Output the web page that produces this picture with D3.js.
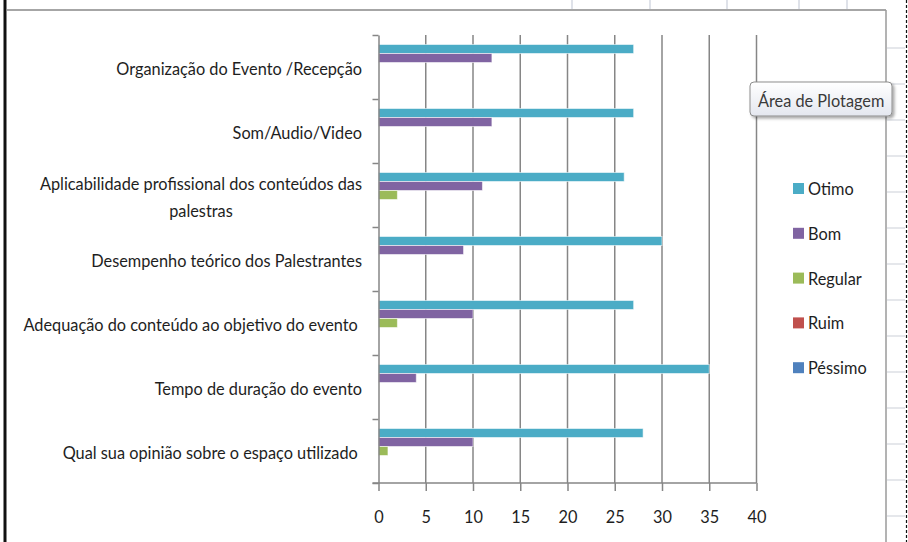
<!DOCTYPE html>
<html>
<head>
<meta charset="utf-8">
<script src="https://cdn.jsdelivr.net/npm/d3@7"></script>
<style>
  html, body { margin: 0; padding: 0; background: #ffffff; }
  svg { display: block; }
  text { font-family: Lato, "Open Sans", "DejaVu Sans Condensed", sans-serif; white-space: pre; }
</style>
</head>
<body>
<svg id="chart" width="908" height="542"></svg>
<script>
// ---------- data ----------
const categories = [
  "Organização do Evento /Recepção",
  "Som/Audio/Video",
  "Aplicabilidade profissional dos conteúdos das\npalestras",
  "Desempenho teórico dos Palestrantes",
  "Adequação do conteúdo ao objetivo do evento ",
  "Tempo de duração do evento",
  "Qual sua opinião sobre o espaço utilizado "
];
const seriesNames = ["Otimo", "Bom", "Regular", "Ruim", "Péssimo"];
const otimo   = [27, 27, 26, 30, 27, 35, 28];
const bom     = [12, 12, 11,  9, 10,  4, 10];
const regular = [ 0,  0,  2,  0,  2,  0,  1];
const ruim    = [ 0,  0,  0,  0,  0,  0,  0];
const pessimo = [ 0,  0,  0,  0,  0,  0,  0];
const xTickValues = [0, 5, 10, 15, 20, 25, 30, 35, 40];
const seriesColors = ["#4BACC6", "#8064A2", "#9BBB59", "#C0504D", "#4F81BD"];
const tooltipText = "Área de Plotagem";

const seriesValues = [otimo, bom, regular, ruim, pessimo];

// ---------- layout ----------
const svg = d3.select("#chart");
const plot = { left: 378.5, right: 756.5, top: 35, bottom: 483 };
const fontSize = 18;
const textColor = "#1e1e1e";
const axisColor = "#868686";

// horizontal font-fit factor: the reference font is narrow (Calibri-like)
const probe = svg.append("text").attr("font-size", fontSize).text(categories[0]);
const sx = 246 / probe.node().getComputedTextLength();
probe.remove();

function addText(parent, tx, ty, str, anchor, fill) {
  return parent.append("text")
    .attr("transform", `translate(${tx},${ty}) scale(${sx},1)`)
    .attr("font-size", fontSize).attr("fill", fill || textColor)
    .attr("text-anchor", anchor || "start").text(str);
}

// spreadsheet background pieces (decoration)
const sheetCols = [572, 650, 727, 799, 847];
svg.append("g").selectAll("line").data(sheetCols).join("line")
  .attr("x1", d => d).attr("x2", d => d).attr("y1", 0).attr("y2", 10)
  .attr("stroke", "#d4d9e2").attr("stroke-width", 1.5);
svg.append("g").selectAll("line").data(d3.range(1, 15)).join("line")
  .attr("x1", 887).attr("x2", 905)
  .attr("y1", d => 12 + d * 36).attr("y2", d => 12 + d * 36)
  .attr("stroke", "#dcdfe5").attr("stroke-width", 1.5);

// chart area borders
svg.append("line").attr("x1", 7).attr("x2", 886).attr("y1", 10).attr("y2", 10)
  .attr("stroke", "#a6a6a6").attr("stroke-width", 2);
svg.append("line").attr("x1", 886).attr("x2", 886).attr("y1", 10).attr("y2", 542)
  .attr("stroke", "#9a9a9a").attr("stroke-width", 1.5);
svg.append("line").attr("x1", 5).attr("x2", 5).attr("y1", 0).attr("y2", 542)
  .attr("stroke", "#111").attr("stroke-width", 3);
svg.append("line").attr("x1", 906.5).attr("x2", 906.5).attr("y1", 0).attr("y2", 542)
  .attr("stroke", "#111").attr("stroke-width", 1.2).attr("stroke-dasharray", "3,2");

// ---------- scales ----------
const x = d3.scaleLinear().domain([0, 40]).range([plot.left, plot.right]);
const y0 = d3.scaleBand().domain(d3.range(categories.length))
  .range([plot.top, plot.bottom]).paddingInner(0.297).paddingOuter(0.1485);
const y1 = d3.scaleBand().domain(seriesNames).range([0, y0.bandwidth()]);
const yEdge = d3.scaleLinear().domain([0, categories.length]).range([plot.top, plot.bottom]);

// gridlines
svg.append("g").selectAll("line").data(xTickValues.filter(v => v > 0)).join("line")
  .attr("x1", d => x(d)).attr("x2", d => x(d))
  .attr("y1", plot.top).attr("y2", plot.bottom)
  .attr("stroke", axisColor).attr("stroke-width", 1.5);

// bars
const groups = svg.append("g").selectAll("g").data(categories.map((c, i) => i)).join("g")
  .attr("transform", i => `translate(0,${y0(i)})`);
groups.selectAll("rect")
  .data(i => seriesNames.map((s, k) => ({ s, k, v: seriesValues[k][i] })))
  .join("rect")
  .attr("x", x(0))
  .attr("y", d => y1(d.s))
  .attr("width", d => x(d.v) - x(0))
  .attr("height", y1.bandwidth())
  .attr("fill", d => seriesColors[d.k])
  .attr("stroke", d => d.v > 0 ? "rgba(255,255,255,0.55)" : "none")
  .attr("stroke-width", 1);

// x axis
const xAxis = d3.axisBottom(x).tickValues(xTickValues).tickSize(8).tickSizeOuter(0).tickFormat("");
const gx = svg.append("g").attr("transform", `translate(0,${plot.bottom})`).call(xAxis);
gx.select(".domain").attr("stroke", axisColor).attr("stroke-width", 1.5)
  .attr("d", `M${plot.left - 6},0H${plot.right}`);
gx.selectAll(".tick line").attr("stroke", axisColor).attr("stroke-width", 1.5);
gx.selectAll(".tick").each(function (d) {
  addText(d3.select(this), 0, 40, String(d), "middle");
});

// y axis
const yAxis = d3.axisLeft(yEdge).tickValues(d3.range(categories.length + 1))
  .tickFormat("").tickSize(6).tickSizeOuter(0);
const gy = svg.append("g").attr("transform", `translate(${plot.left},0)`).call(yAxis);
gy.select(".domain").attr("stroke", axisColor).attr("stroke-width", 1.5);
gy.selectAll(".tick line").attr("stroke", axisColor).attr("stroke-width", 1.5);

// category labels
const labelRight = 362;
const lineGap = 27;
categories.forEach((c, i) => {
  const lines = c.split("\n");
  const center = y0(i) + y0.bandwidth() / 2;
  const first = addText(svg, labelRight, center + 8 - (lines.length - 1) / 2 * lineGap, lines[0], "end");
  if (lines.length > 1) {
    const w = first.node().getComputedTextLength() * sx;
    lines.slice(1).forEach((ln, j) => {
      addText(svg, labelRight - w / 2, center + 8 + (j + 1 - (lines.length - 1) / 2) * lineGap, ln, "middle");
    });
  }
});

// legend
const legend = svg.append("g").attr("transform", "translate(793,183)");
const li = legend.selectAll("g").data(seriesNames).join("g")
  .attr("transform", (d, k) => `translate(0,${k * 44.8})`);
li.append("rect").attr("width", 11).attr("height", 11).attr("fill", (d, k) => seriesColors[k]);
li.each(function (d) { addText(d3.select(this), 15, 12, d, "start"); });

// tooltip "Área de Plotagem"
const defs = svg.append("defs");
const grad = defs.append("linearGradient").attr("id", "tipGrad").attr("x1", 0).attr("y1", 0).attr("x2", 0).attr("y2", 1);
grad.append("stop").attr("offset", "0%").attr("stop-color", "#ffffff");
grad.append("stop").attr("offset", "100%").attr("stop-color", "#e4e7ef");
const filt = defs.append("filter").attr("id", "tipShadow").attr("x", "-10%").attr("y", "-20%").attr("width", "130%").attr("height", "160%");
filt.append("feDropShadow").attr("dx", 2).attr("dy", 2).attr("stdDeviation", 1.5).attr("flood-color", "#000").attr("flood-opacity", 0.35);
const tip = svg.append("g").attr("transform", "translate(750,82)");
tip.append("rect").attr("width", 142).attr("height", 34).attr("rx", 4)
  .attr("fill", "url(#tipGrad)").attr("stroke", "#8d8d8d").attr("stroke-width", 1)
  .attr("filter", "url(#tipShadow)");
addText(tip, 8, 25, tooltipText, "start", "#3a3a3a");
</script>
</body>
</html>
